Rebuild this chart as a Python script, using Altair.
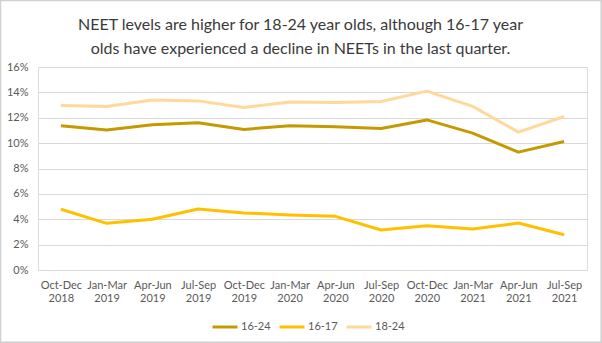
import altair as alt
import pandas as pd

quarters = ["Oct-Dec 2018", "Jan-Mar 2019", "Apr-Jun 2019", "Jul-Sep 2019",
            "Oct-Dec 2019", "Jan-Mar 2020", "Apr-Jun 2020", "Jul-Sep 2020",
            "Oct-Dec 2020", "Jan-Mar 2021", "Apr-Jun 2021", "Jul-Sep 2021"]
series_names = ["16-24", "16-17", "18-24"]
v_16_24 = [11.37, 11.03, 11.45, 11.61, 11.08, 11.37, 11.30, 11.16, 11.83, 10.79, 9.29, 10.13]
v_16_17 = [4.79, 3.68, 4.00, 4.81, 4.50, 4.34, 4.23, 3.15, 3.49, 3.23, 3.70, 2.78]
v_18_24 = [12.96, 12.88, 13.40, 13.33, 12.80, 13.25, 13.20, 13.28, 14.10, 12.90, 10.87, 12.10]
colors = ["#C49A00", "#FFC000", "#FFD89B"]
y_ticks = [0, 0.02, 0.04, 0.06, 0.08, 0.10, 0.12, 0.14, 0.16]

rows = []
for name, vals in zip(series_names, [v_16_24, v_16_17, v_18_24]):
    for q, v in zip(quarters, vals):
        rows.append({"quarter": q, "series": name, "value": v / 100})
df = pd.DataFrame(rows)

FONT = "Lato"

lines = alt.Chart(df).mark_line(strokeWidth=3, strokeJoin="round").encode(
    x=alt.X("quarter:N", sort=quarters, title=None,
            axis=alt.Axis(labelAngle=0, labelExpr="split(datum.label, ' ')",
                          labelFontSize=11, labelColor="#595959", labelFont=FONT,
                          ticks=False, domain=False, labelPadding=9,
                          labelLineHeight=13)),
    y=alt.Y("value:Q", title=None,
            scale=alt.Scale(domain=[0, 0.16], nice=False),
            axis=alt.Axis(values=y_ticks, format=".0%", labelFontSize=11,
                          labelColor="#595959", labelFont=FONT, ticks=False,
                          domain=False, labelPadding=10, gridColor="#D9D9D9",
                          gridWidth=1)),
    color=alt.Color("series:N", sort=series_names,
                    scale=alt.Scale(domain=series_names, range=colors),
                    legend=alt.Legend(title=None, orient="none", direction="horizontal",
                                      legendX=173, legendY=246,
                                      symbolType="stroke", symbolSize=625,
                                      symbolStrokeWidth=3, labelFontSize=11,
                                      labelColor="#595959", labelFont=FONT,
                                      columnPadding=2, labelOffset=2)),
    order=alt.Order("series:N"),
)

frame = alt.Chart(pd.DataFrame({"k": [0]})).mark_rect(
    fill=None, stroke="#D0D0D0", strokeWidth=1.5
).encode(
    x=alt.value(-37.5), x2=alt.value(563.2),
    y=alt.value(-66.5), y2=alt.value(275.2),
)

chart = alt.layer(frame, lines).properties(
    width=549, height=203,
    autosize=alt.AutoSizeParams(type="none"),
    padding={"left": 38, "top": 67, "right": 15, "bottom": 73},
    title=alt.TitleParams(
        text=["NEET levels are higher for 18-24 year olds, although 16-17 year",
              "olds have experienced a decline in NEETs in the last quarter."],
        fontSize=16, font=FONT, fontWeight="normal", color="#3A3A3A",
        anchor="middle", frame="group", dx=-12, lineHeight=24, offset=-57),
).configure_view(stroke=None).configure(background="white")

chart.save("out.html", embed_options={"renderer": "svg", "actions": False})
